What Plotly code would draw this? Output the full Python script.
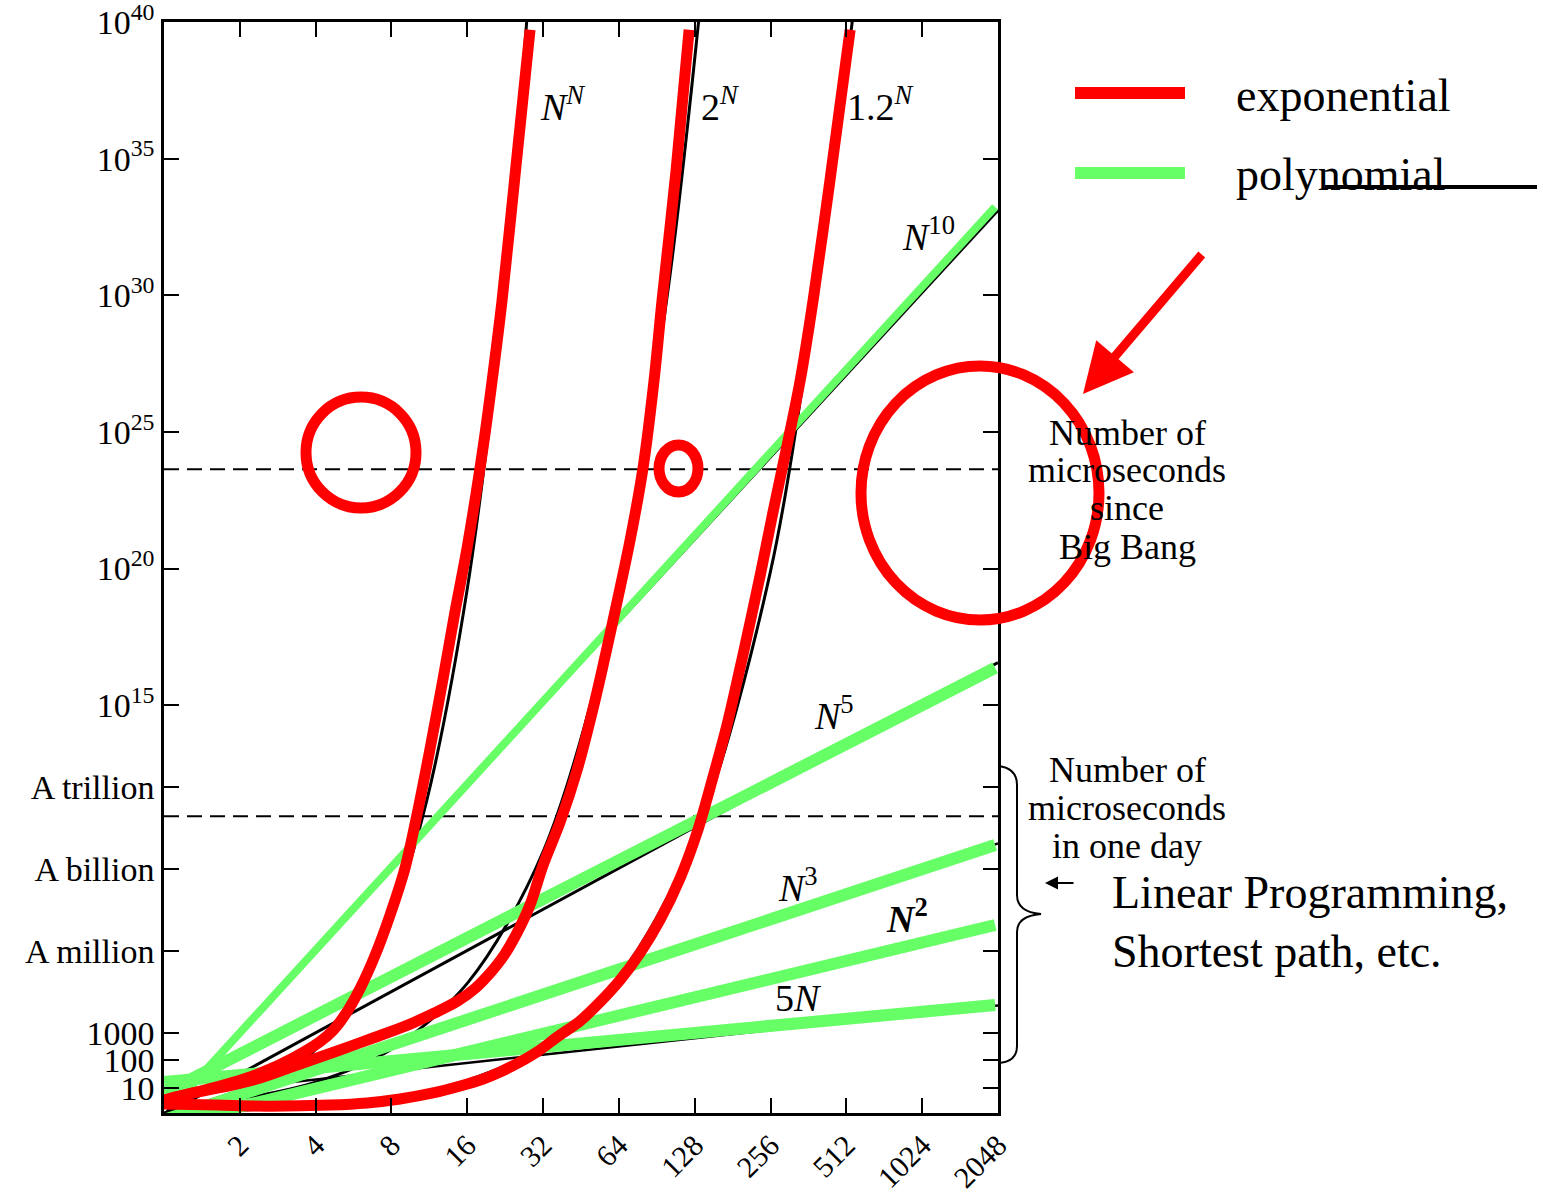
import math
import plotly.graph_objects as go

# ---------------- data ----------------
x_tickvals = [2, 4, 8, 16, 32, 64, 128, 256, 512, 1024, 2048]
x_ticktext = ["2", "4", "8", "16", "32", "64", "128", "256", "512", "1024", "2048"]

y_tickvals = [10, 100, 1000, 1e6, 1e9, 1e12, 1e15, 1e20, 1e25, 1e30, 1e35, 1e40]
y_ticktext = ["10", "100", "1000", "A million", "A billion", "A trillion",
              "10<sup>15</sup>", "10<sup>20</sup>", "10<sup>25</sup>",
              "10<sup>30</sup>", "10<sup>35</sup>", "10<sup>40</sup>"]

big_bang_us = 4.3e23
one_day_us = 8.64e10

# original (thin black) curves
nn_black_n = [1, 2, 3, 4, 6, 8, 10, 12, 16, 20, 24, 28.5]
nn_black_v = [1, 4, 27, 256, 4.7e4, 1.7e7, 1e10, 8.9e12, 1.8e19, 1e26, 1.3e33, 7e41]
p2_black_n = [1, 2, 4, 8, 16, 32, 64, 100, 140]
p2_black_v = [2, 4, 16, 256, 65536, 4.3e9, 1.8e19, 1.3e30, 1.4e42]
p12_black_n = [1, 4, 8, 16, 32, 64, 128, 256, 400, 540, 600]
p12_black_v = [1.2, 2.07, 4.3, 18.5, 340, 1.2e5, 1.3e10, 8e19, 1e31, 1e40, 1e44]
n10_black_n = [1, 2048]
n10_black_v = [1, 1.3e33]
n5_black_n = [1, 2048]
n5_black_v = [1, 3.6e16]
n3_black_n = [1, 2048]
n3_black_v = [1, 8.6e9]
n5x_black_n = [1, 2048]
n5x_black_v = [5, 10240]

# green (polynomial) overlay lines
n10_green_n = [1.21, 1995]
n10_green_v = [6.4, 1.7e33]
n5_green_n = [1.0, 1995]
n5_green_v = [6.4, 2.3e16]
n3_green_n = [1.0, 1995]
n3_green_v = [0.66, 7.6e9]
n2_green_n = [1.0, 1995]
n2_green_v = [0.43, 9.0e6]
n5x_green_n = [1.0, 1995]
n5x_green_v = [16, 1.06e4]

# red (exponential) overlay curves
nn_red_n = [1.0, 1.78, 2.41, 3.25, 4.16, 4.69, 5.23, 6.0, 6.89, 7.9, 9.06, 10.1,
            11.4, 12.8, 14.3, 16.0, 18.5, 20.1, 22.0, 25.0, 28.4]
nn_red_v = [3.5, 13.6, 34, 122, 480, 1250, 4600, 4.2e4, 7.0e5, 2.1e7, 1.1e9, 9.6e10,
            2.7e13, 8.4e15, 2.6e18, 6.2e20, 2.8e24, 8.0e26, 6.8e29, 5.9e34, 5.2e39]
p2_red_n = [1.0, 1.30, 1.83, 2.41, 3.47, 5.0, 6.89, 9.23, 11.9, 14.6, 17.2, 19.7, 22.4,
            25.2, 28.4, 32.0, 37.4, 43.7, 51.5, 60.7, 70.9, 79.8, 88.3, 95.0, 108, 121.6]
p2_red_v = [3.5, 6.4, 12, 22.6, 73.6, 240, 700, 1900, 5500, 1.45e4, 4.3e4, 1.55e5, 7.0e5,
            4.6e6, 4.9e7, 1.4e9, 5.3e10, 4.3e12, 1.55e15, 1.3e18, 1.1e21, 4.8e23, 8.0e26,
            6.8e29, 3.9e34, 5.2e39]
p12_red_n = [1.0, 1.62, 2.56, 4.56, 6.40, 8.65, 11.7, 15.0, 18.5, 21.6, 25.9, 31.1, 36.4,
             44.9, 53.9, 64.7, 77.7, 93.3, 112, 131, 151, 172, 199, 233, 262, 298, 336,
             378, 441, 530]
p12_red_v = [2.5, 2.3, 2.1, 2.3, 2.75, 3.85, 6.4, 11.5, 20.8, 37.5, 87, 240, 716,
             2760, 1.37e4, 8.7e4, 8.5e5, 1.4e7, 4.7e8, 2.3e10, 2.2e12, 1.9e14, 6.9e16,
             5.8e19, 1.2e22, 3.3e24, 8.0e26, 6.8e29, 1.7e34, 5.2e39]

# ---------------- geometry / style ----------------
W, H = 1543, 1194
L, R, T, B = 164, 545, 22, 81
PW, PH = W - L - R, H - T - B


def px(x):
    return (x - L) / PW


def py(y):
    return (H - B - y) / PH


RED = "#FF0000"
GREEN = "#66FF66"
SERIF = "Liberation Serif, Times New Roman, serif"

fig = go.Figure()


def add_line(xs, ys, color, width, shape="linear", dash=None):
    fig.add_trace(go.Scatter(
        x=xs, y=ys, mode="lines",
        line=dict(color=color, width=width, shape=shape, dash=dash,
                  smoothing=0.9 if shape == "spline" else None),
        hoverinfo="skip", showlegend=False))


# dashed reference lines
add_line([1, 2048], [big_bang_us, big_bang_us], "black", 2, dash="15px,8px")
add_line([1, 2048], [one_day_us, one_day_us], "black", 2, dash="15px,8px")

# black originals
add_line(n10_black_n, n10_black_v, "black", 3)
add_line(n5_black_n, n5_black_v, "black", 3)
add_line(n3_black_n, n3_black_v, "black", 2.5)
add_line(n5x_black_n, n5x_black_v, "black", 2.5)
add_line(nn_black_n, nn_black_v, "black", 3, shape="spline")
add_line(p2_black_n, p2_black_v, "black", 3, shape="spline")
add_line(p12_black_n, p12_black_v, "black", 3, shape="spline")

# green overlays
add_line(n10_green_n, n10_green_v, GREEN, 8)
add_line(n5_green_n, n5_green_v, GREEN, 12)
add_line(n3_green_n, n3_green_v, GREEN, 12)
add_line(n2_green_n, n2_green_v, GREEN, 12)
add_line(n5x_green_n, n5x_green_v, GREEN, 12)

# red overlays
add_line(nn_red_n, nn_red_v, RED, 11, shape="spline")
add_line(p2_red_n, p2_red_v, RED, 11, shape="spline")
add_line(p12_red_n, p12_red_v, RED, 11, shape="spline")

axis_common = dict(
    showline=True, linecolor="black", linewidth=2.5, mirror="ticks",
    ticks="inside", ticklen=15, tickwidth=2, tickcolor="black",
    showgrid=False, zeroline=False, ticklabeloverflow="allow",
)

fig.update_xaxes(type="log", range=[0, math.log10(2048)],
                 tickmode="array", tickvals=x_tickvals, ticktext=x_ticktext,
                 tickangle=-45, tickfont=dict(family=SERIF, size=30, color="black"),
                 **axis_common)
fig.update_yaxes(type="log", range=[0.073, 40.001],
                 tickmode="array", tickvals=y_tickvals, ticktext=y_ticktext,
                 tickfont=dict(family=SERIF, size=34, color="black"),
                 **axis_common)

shapes = []
# red circles
for (x0, y0, x1, y1) in [(306, 397, 416, 508), (659, 445, 698, 492), (861, 366, 1099, 620)]:
    shapes.append(dict(type="circle", xref="paper", yref="paper",
                       x0=px(x0), x1=px(x1), y0=py(y1), y1=py(y0),
                       line=dict(color=RED, width=11), layer="above"))
# legend samples
shapes.append(dict(type="line", xref="paper", yref="paper",
                   x0=px(1075), x1=px(1185), y0=py(93), y1=py(93),
                   line=dict(color=RED, width=12)))
shapes.append(dict(type="line", xref="paper", yref="paper",
                   x0=px(1075), x1=px(1185), y0=py(173), y1=py(173),
                   line=dict(color=GREEN, width=12)))
# underline stroke
shapes.append(dict(type="line", xref="paper", yref="paper",
                   x0=px(1325), x1=px(1537), y0=py(187), y1=py(187),
                   line=dict(color="black", width=4)))


# brace
def P(x, y):
    return f"{px(x):.5f},{py(y):.5f}"


brace = (f"M {P(998,766)} Q {P(1017,768)} {P(1017,785)} L {P(1017,895)} "
         f"Q {P(1017,912)} {P(1041,914)} Q {P(1017,916)} {P(1017,932)} "
         f"L {P(1017,1046)} Q {P(1017,1062)} {P(998,1063)}")
shapes.append(dict(type="path", xref="paper", yref="paper", path=brace,
                   line=dict(color="black", width=2)))

annotations = []


def text(s, x, y, size, xanchor="center", yanchor="middle"):
    annotations.append(dict(text=s, x=px(x), y=py(y), xref="paper", yref="paper",
                            showarrow=False, xanchor=xanchor, yanchor=yanchor,
                            font=dict(family=SERIF, size=size, color="black")))


# curve labels
text("<i>N</i><sup><i>N</i></sup>", 562, 104, 38)
text("2<sup><i>N</i></sup>", 720, 104, 38)
text("1.2<sup><i>N</i></sup>", 880, 104, 38)
text("<i>N</i><sup>10</sup>", 928, 234, 38)
text("<i>N</i><sup>5</sup>", 834, 713, 38)
text("<i>N</i><sup>3</sup>", 798, 885, 38)
text("<b><i>N</i><sup>2</sup></b>", 907, 916, 38)
text("5<i>N</i>", 798, 998, 38)

# legend text
text("exponential", 1234, 96, 46, xanchor="left")
text("polynomial", 1234, 175, 46, xanchor="left")

# side notes
for s, yy in [("Number of", 433), ("microseconds", 470), ("since", 508), ("Big Bang", 547)]:
    text(s, 1127, yy, 36)
for s, yy in [("Number of", 770), ("microseconds", 808), ("in one day", 846)]:
    text(s, 1127, yy, 36)
text("Linear Programming,", 1110, 892, 46, xanchor="left")
text("Shortest path, etc.", 1110, 951, 46, xanchor="left")

# red arrow
annotations.append(dict(text="", x=px(1083), y=py(394), xref="paper", yref="paper",
                        showarrow=True, ax=120, ay=-141, arrowcolor=RED,
                        arrowwidth=9, arrowhead=2, arrowsize=1.1))
# small black arrow
annotations.append(dict(text="", x=px(1045), y=py(883), xref="paper", yref="paper",
                        showarrow=True, ax=30, ay=0, arrowcolor="black",
                        arrowwidth=2, arrowhead=2, arrowsize=1.3))

fig.update_layout(
    width=W, height=H, margin=dict(l=L, r=R, t=T, b=B, autoexpand=False),
    paper_bgcolor="white", plot_bgcolor="white",
    showlegend=False, shapes=shapes, annotations=annotations,
)

fig.write_html("out.html")
